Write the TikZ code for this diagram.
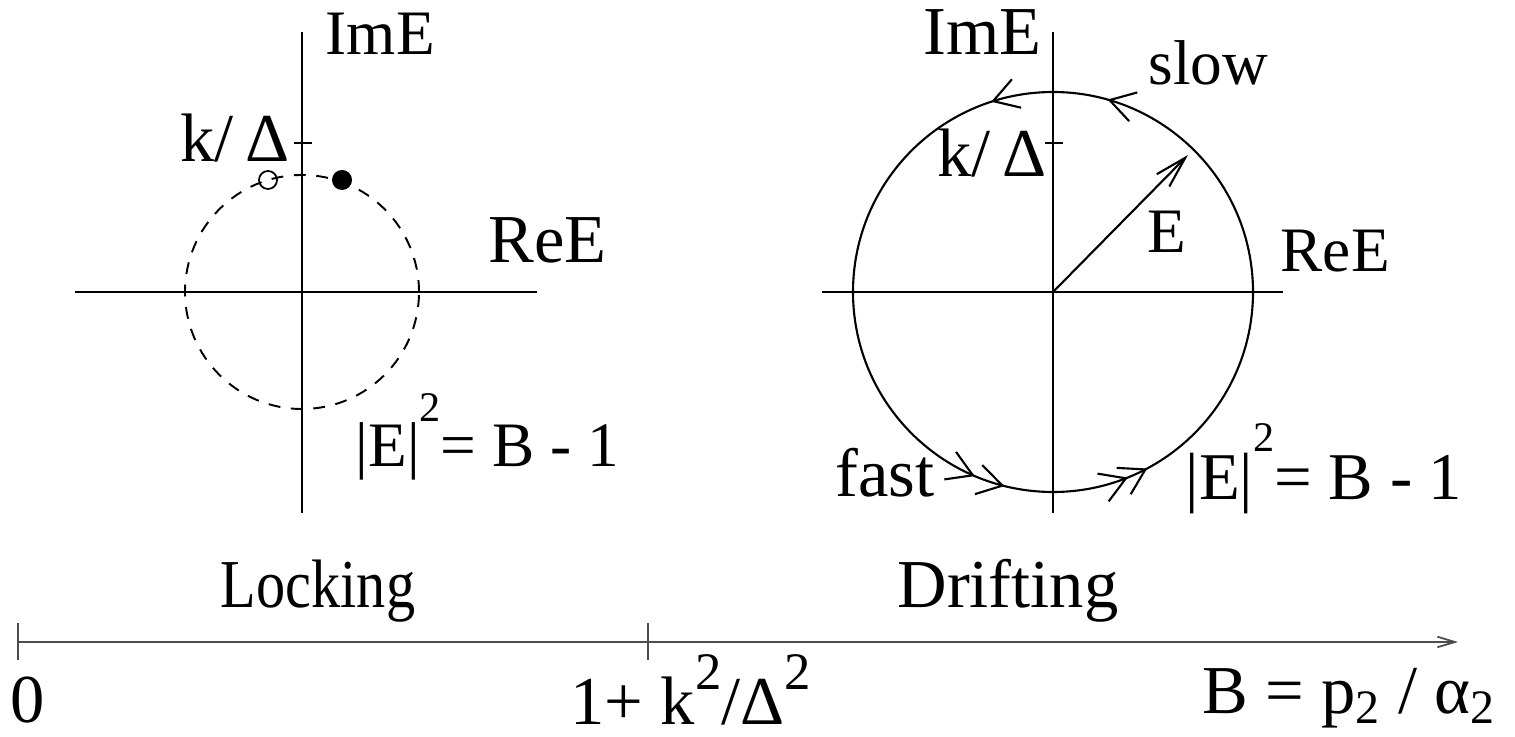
\documentclass[tikz,border=0pt]{standalone}
\usepackage{fontspec}
\setmainfont{Liberation Serif}
\usetikzlibrary{arrows.meta,decorations.markings}
\newcommand{\hiTwo}[2][12]{\raisebox{#2}{\fontsize{#1}{#1}\selectfont 2}}

\begin{document}
\begin{tikzpicture}[
        x=0.01cm,y=0.01cm,
        every node/.style={font=\fontsize{18}{21}\selectfont,inner sep=0pt},
        bigNode/.style={font=\fontsize{19.5}{22}\selectfont,inner sep=0pt},
        axLine/.style={draw=black,line width=0.6pt},
        bLine/.style={draw=black!70,line width=0.5pt},
        dLine/.style={draw=black,line width=0.55pt,dash pattern=on 3.4pt off 3pt},
        vTip/.style={-{Straight Barb[length=9pt,width=5pt]}},
        oTip/.tip={Straight Barb[length=7pt,width=8.5pt]}]
        \useasboundingbox (0,0) rectangle (1515,736);
        % locking plane
        \coordinate (lc) at (302,444);
        \coordinate (lxa) at (75,444);
        \coordinate (lxb) at (537,444);
        \coordinate (lya) at (302,223);
        \coordinate (lyb) at (302,704);
        \coordinate (lta) at (294,593);
        \coordinate (ltb) at (312,593);
        \draw[axLine] (lxa)--(lxb) (lya)--(lyb) (lta)--(ltb);
        \draw[dLine] (lc) circle[radius=117];
        \node[circle,draw,line width=0.5pt,minimum size=0.18cm] (lo) at (268,556) {};
        \node[circle,fill=black,minimum size=0.2cm] (lf) at (342,556) {};
        \node[anchor=base west] (lim) at (325,681) {ImE};
        \node[bigNode,anchor=base east] (lk) at (290,574) {k/\,Δ};
        \node[bigNode,anchor=base west] (lre) at (488,473) {ReE};
        \node[anchor=base west] (lmod) at (355,269) {|E|\hiTwo{0.72em}= B - 1};
        % drifting plane
        \coordinate (rc) at (1053,444);
        \coordinate (rxa) at (822,444);
        \coordinate (rxb) at (1283,444);
        \coordinate (rya) at (1053,223);
        \coordinate (ryb) at (1053,704);
        \coordinate (rta) at (1045,593);
        \coordinate (rtb) at (1063,593);
        \coordinate (re) at (1188,581);
        \draw[axLine] (rxa)--(rxb) (rya)--(ryb) (rta)--(rtb);
        \draw[axLine,postaction={decorate},decoration={markings,
            mark=at position 0.206 with {\arrow{oTip}},
            mark=at position 0.300 with {\arrow{oTip}},
            mark=at position 0.686 with {\arrow{oTip}},
            mark=at position 0.711 with {\arrow{oTip}},
            mark=at position 0.811 with {\arrow{oTip}},
            mark=at position 0.828 with {\arrow{oTip}}}]
            (rc) circle[radius=200];
        \draw[axLine,vTip] (rc)--(re);
        \node[bigNode,anchor=base east] (rim) at (1042,681) {ImE};
        \node[anchor=base west] (rslow) at (1148,651) {slow};
        \node[bigNode,anchor=base east] (rk) at (1047,559) {k/\,Δ};
        \node[anchor=base west] (rE) at (1147,483) {E};
        \node[anchor=base west] (rre) at (1280,464) {ReE};
        \node[bigNode,anchor=base west] (rfast) at (835,239) {fast};
        \node[anchor=base west,font=\fontsize{19}{22}\selectfont] (rmod) at (1185,236) {|E|\hiTwo{0.72em}= B - 1};
        % B axis
        \coordinate (b0) at (18,94);
        \coordinate (b1) at (648,94);
        \coordinate (bend) at (1458,94);
        \draw[bLine,-{Straight Barb[length=5pt,width=3pt]}] (b0)--(bend);
        \draw[bLine] (b0)++(0,19)--++(0,-37) (b1)++(0,19)--++(0,-37);
        \node[bigNode,anchor=base] (lock) at (318,129) {\scalebox{0.85}[1]{Locking}};
        \node[bigNode,anchor=base] (drift) at (1008,129) {Drifting};
        \node[bigNode,anchor=base west] (v0) at (10,14) {0};
        \node[bigNode,anchor=base west] (v1) at (570,12) {1+ k\hiTwo[15]{0.5em}/Δ\hiTwo[15]{0.5em}};
        \node[bigNode,anchor=base west] (vB) at (1202,23) {B = p\textsubscript{2} / α\textsubscript{2}};
      \end{tikzpicture}
\end{document}
